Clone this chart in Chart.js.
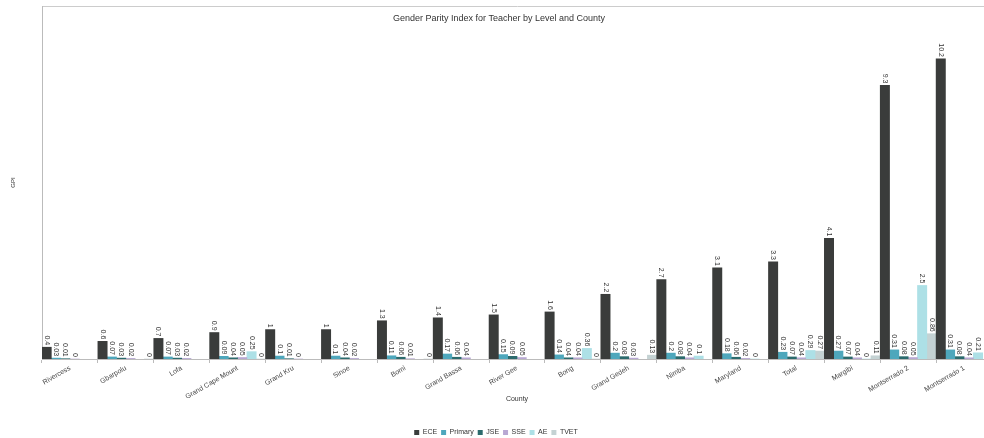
<!DOCTYPE html>
<html>
<head>
<meta charset="utf-8">
<script src="https://cdn.jsdelivr.net/npm/chart.js@4.4.1/dist/chart.umd.min.js"></script>
<style>
html,body{margin:0;padding:0;background:#fff;overflow:hidden;}
#wrap{width:984px;height:438px;overflow:hidden;}
</style>
</head>
<body>
<div id="wrap"><canvas id="c" width="996" height="446"></canvas></div>
<script>
const categories = ["Rivercess","Gbarpolu","Lofa","Grand Cape Mount","Grand Kru","Sinoe","Bomi","Grand Bassa","River Gee","Bong","Grand Gedeh","Nimba","Maryland","Total","Margibi","Montserrado 2","Montserrado 1"];
const ECE     = [0.4,0.6,0.7,0.9,1,1,1.3,1.4,1.5,1.6,2.2,2.7,3.1,3.3,4.1,9.3,10.2];
const Primary = [0.03,0.07,0.07,0.09,0.1,0.1,0.11,0.17,0.15,0.14,0.2,0.2,0.18,0.23,0.27,0.31,0.31];
const JSE     = [0.01,0.03,0.03,0.04,0.01,0.04,0.06,0.06,0.09,0.04,0.08,0.08,0.06,0.07,0.07,0.08,0.08];
const SSE     = [0,0.02,0.02,0.05,0,0.02,0.01,0.04,0.05,0.04,0.03,0.04,0.02,0.04,0.04,0.05,0.04];
const AE      = [null,null,null,0.25,null,null,null,null,null,0.36,null,0.1,0,0.29,0,2.5,0.21];
const TVET    = [null,0,null,0,null,null,0,null,null,0,0.13,null,null,0.27,0.11,0.86,null];
const seriesNames = ["ECE","Primary","JSE","SSE","AE","TVET"];
const seriesColors = ["#3a3c3b","#4ea7bc","#2c6b6d","#b8a8d3","#ade0e6","#c4d2d3"];
const titleText = "Gender Parity Index for Teacher by Level and County";
const FONT = "'Liberation Sans', Arial, sans-serif";

const seriesData = [ECE, Primary, JSE, SSE, AE, TVET];

const labelPlugin = {
  id: 'barLabels',
  afterDatasetsDraw(chart) {
    const ctx = chart.ctx;
    ctx.save();
    ctx.font = "7px " + FONT;
    ctx.fillStyle = "#333";
    ctx.textAlign = "right";
    ctx.textBaseline = "middle";
    chart.data.datasets.forEach((ds, di) => {
      const meta = chart.getDatasetMeta(di);
      meta.data.forEach((el, i) => {
        const v = ds.data[i];
        if (v === null || v === undefined) return;
        ctx.save();
        ctx.translate(el.x, el.y - 2);
        ctx.rotate(Math.PI / 2);
        ctx.fillText(String(v), 0, 0);
        ctx.restore();
      });
    });
    ctx.restore();
  }
};

const titlePlugin = {
  id: 'innerTitle',
  afterDraw(chart) {
    const ctx = chart.ctx;
    ctx.save();
    ctx.font = "9px " + FONT;
    ctx.fillStyle = "#333";
    ctx.textAlign = "center";
    ctx.textBaseline = "middle";
    ctx.fillText(titleText, 499, 19);
    ctx.restore();
  }
};

new Chart(document.getElementById('c'), {
  type: 'bar',
  data: {
    labels: categories,
    datasets: seriesNames.map((n, k) => ({
      label: n,
      data: seriesData[k],
      backgroundColor: seriesColors[k],
      borderWidth: 0,
      barPercentage: 1,
      categoryPercentage: 1,
      xAxisID: 'x'
    }))
  },
  options: {
    responsive: false,
    animation: false,
    devicePixelRatio: 1,
    layout: { padding: { left: 0, right: 4, top: 6, bottom: 0 } },
    plugins: {
      legend: {
        position: 'bottom',
        labels: {
          boxWidth: 5, boxHeight: 5, padding: 4,
          font: { size: 7, family: FONT }, color: '#333'
        }
      },
      title: { display: false },
      tooltip: { enabled: false }
    },
    scales: {
      x: {
        type: 'category',
        position: 'bottom',
        offset: true,
        grid: { display: true, drawOnChartArea: false, drawTicks: true, tickLength: 4, offset: true, color: '#bbb' },
        border: { display: true, color: '#bbb' },
        ticks: { minRotation: 30, maxRotation: 30, autoSkip: false, padding: 1, font: { size: 7, family: FONT }, color: '#444' },
        title: { display: true, text: 'County', font: { size: 7, family: FONT }, color: '#333', padding: { top: 0, bottom: 22 } },
        afterFit(scale) { scale.height = 66; }
      },
      x2: {
        type: 'category',
        position: 'top',
        labels: categories,
        grid: { display: false },
        border: { display: true, color: '#ccc' },
        ticks: { display: false },
        afterFit(scale) { scale.height = 0; }
      },
      y: {
        min: 0, max: 12,
        grid: { display: false },
        border: { display: true, color: '#bbb' },
        ticks: { display: false },
        title: { display: true, text: 'GPI', font: { size: 6, family: FONT }, color: '#333', padding: { top: 10, bottom: 0 } },
        afterFit(scale) { scale.width = 42; }
      }
    }
  },
  plugins: [labelPlugin, titlePlugin]
});
</script>
</body>
</html>
